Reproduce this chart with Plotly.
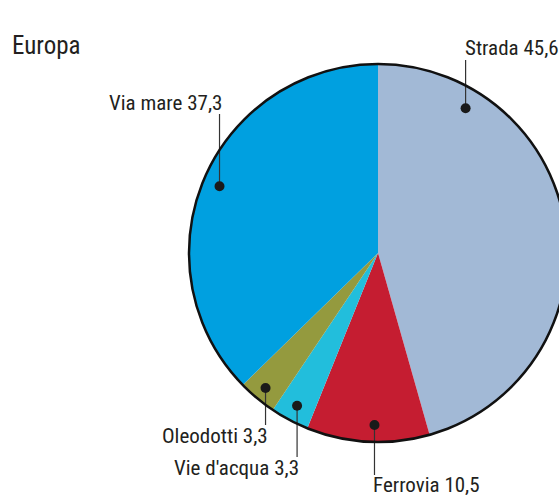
import math
import plotly.graph_objects as go

# ---- data ----
categories = ["Strada", "Ferrovia", "Vie d'acqua", "Oleodotti", "Via mare"]
values = [45.6, 10.5, 3.3, 3.3, 37.3]
value_labels = ["45,6", "10,5", "3,3", "3,3", "37,3"]
title_text = "Europa"

# ---- style / layout ----
colors = ["#A2B9D6", "#C51D31", "#22BEDC", "#949A3E", "#00A0E0"]
W, H = 580, 496
CX, CY, R = 378, 253, 189          # pie centre and radius in pixels
anchor_frac = [0.19, 0.45, 0.5, 0.5, 0.5]   # where along each slice the dot sits
anchor_rad = [0.895, 0.91, 0.915, 0.93, 0.91]
label_y = [48, 485, 468, 436, 103]          # pixel y of label centre
label_side = ["left", "left", "right", "right", "right"]  # xanchor
line_end = [60, 475, 457, 425, 114]
FONT = "Roboto Condensed, Liberation Sans Narrow, sans-serif"
TXT = "#231F20"

fig = go.Figure()
fig.add_trace(go.Pie(
    labels=categories, values=values, sort=False, direction="clockwise",
    rotation=0, textinfo="none", hoverinfo="label+value",
    marker=dict(colors=colors, line=dict(width=0)),
    domain=dict(x=[(CX - R) / W, (CX + R) / W],
                y=[(H - (CY + R)) / H, (H - (CY - R)) / H]),
    showlegend=False,
))
# invisible overlay axes in pixel units
fig.add_trace(go.Scatter(x=[0, W], y=[0, H], mode="markers",
                         marker=dict(opacity=0), hoverinfo="skip", showlegend=False))

shapes = []
annotations = []
total = sum(values)
cum = 0.0
for i, v in enumerate(values):
    a0 = cum / total * 360
    a1 = (cum + v) / total * 360
    cum += v
    ang = math.radians(a0 + (a1 - a0) * anchor_frac[i])
    r = R * anchor_rad[i]
    dx = CX + r * math.sin(ang)
    dy = CY - r * math.cos(ang)
    shapes.append(dict(type="line", xref="x", yref="y", x0=dx, x1=dx, y0=dy, y1=line_end[i],
                       line=dict(color="#333333", width=1.2), layer="above"))
    shapes.append(dict(type="circle", xref="x", yref="y", x0=dx - 5, x1=dx + 5,
                       y0=dy - 5, y1=dy + 5, fillcolor="#1A1A1A",
                       line=dict(width=0), layer="above"))
    tx = dx - 3 if label_side[i] == "left" else dx + 4
    annotations.append(dict(x=tx, y=label_y[i], xref="x", yref="y",
                            text=f"{categories[i]} {value_labels[i]}", showarrow=False,
                            xanchor=label_side[i], yanchor="middle",
                            font=dict(family=FONT, size=21, color=TXT)))

# outer circle outline
shapes.append(dict(type="circle", xref="x", yref="y", x0=CX - R, x1=CX + R,
                   y0=CY - R, y1=CY + R, line=dict(color="#111111", width=2.5),
                   layer="above"))

annotations.append(dict(x=10, y=45, xref="x", yref="y", text=title_text, showarrow=False,
                        xanchor="left", yanchor="middle",
                        font=dict(family=FONT, size=25, color=TXT)))

fig.update_layout(
    width=W, height=H, margin=dict(l=0, r=0, t=0, b=0),
    paper_bgcolor="white", plot_bgcolor="white",
    xaxis=dict(range=[0, W], visible=False, fixedrange=True, domain=[0, 1]),
    yaxis=dict(range=[H, 0], visible=False, fixedrange=True, domain=[0, 1]),
    shapes=shapes, annotations=annotations,
)

fig.write_html("out.html", config={"displayModeBar": False},
               post_script="document.body.style.margin='0';document.body.style.overflow='hidden';")
